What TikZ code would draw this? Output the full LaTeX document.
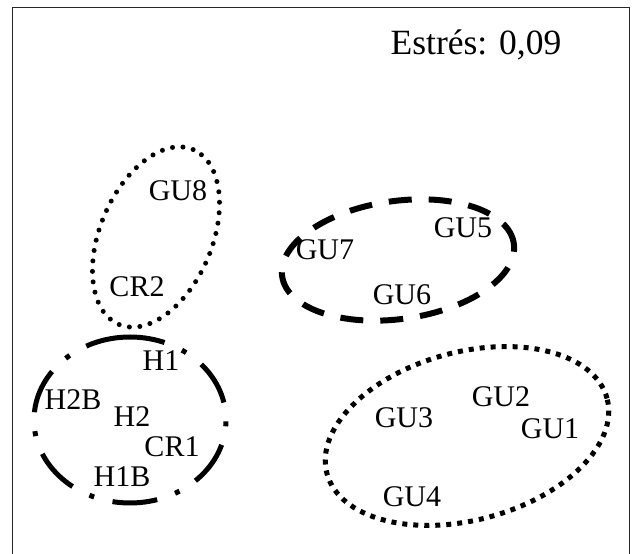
\documentclass[tikz,border=0pt]{standalone}
\usepackage{fontspec}
\setmainfont{Liberation Serif}
\begin{document}
\begin{tikzpicture}[x=1pt,y=1pt,
  lbl/.style={anchor=base,inner sep=0pt,font=\fontsize{30}{32}\selectfont},
  ttl/.style={anchor=base,inner sep=0pt,font=\fontsize{35.5}{40}\selectfont},
  rounddots/.style={line width=5pt,line cap=round,dash pattern=on 0pt off 10.5pt},
  sqdots/.style={line width=5pt,line cap=butt,dash pattern=on 5pt off 6pt},
  longdash/.style={line width=6pt,line cap=butt,dash pattern=on 23pt off 17pt},
  dashdotline/.style={line width=5pt,line cap=butt,dash pattern=on 45pt off 19pt on 5pt off 19pt},
  framel/.style={line width=0.8pt,black!85}]
\useasboundingbox (0,0) rectangle (632,554);
\coordinate (f1) at (12,0);
\coordinate (f2) at (12,547);
\coordinate (f3) at (629,547);
\coordinate (f4) at (629,0);
\draw[framel] (f1) -- (f2) -- (f3) -- (f4);

\node[ttl] (stress) at (476,499) {Estrés: 0,09};

% clusters
\draw[rounddots] (156,317) ellipse [x radius=95, y radius=56, rotate=67];
\draw[longdash] (398,294) ellipse [x radius=117, y radius=59, rotate=8];
\draw[dashdotline] (130,134) ellipse [x radius=83, y radius=96, rotate=90];
\draw[sqdots] (467,118) ellipse [x radius=145, y radius=84, rotate=15];

% labels
\node[lbl] (GU8) at (178,353) {GU8};
\node[lbl] (CR2) at (137,257) {CR2};
\node[lbl] (GU7) at (325,294) {GU7};
\node[lbl] (GU5) at (463,316) {GU5};
\node[lbl] (GU6) at (402,249) {GU6};
\node[lbl] (H1) at (161,183) {H1};
\node[lbl] (H2B) at (73,144) {H2B};
\node[lbl] (H2) at (132,127) {H2};
\node[lbl] (CR1) at (172,97) {CR1};
\node[lbl] (H1B) at (122,67) {H1B};
\node[lbl] (GU3) at (404,126) {GU3};
\node[lbl] (GU2) at (501,147) {GU2};
\node[lbl] (GU1) at (550,115) {GU1};
\node[lbl] (GU4) at (412,47) {GU4};
\end{tikzpicture}
\end{document}
